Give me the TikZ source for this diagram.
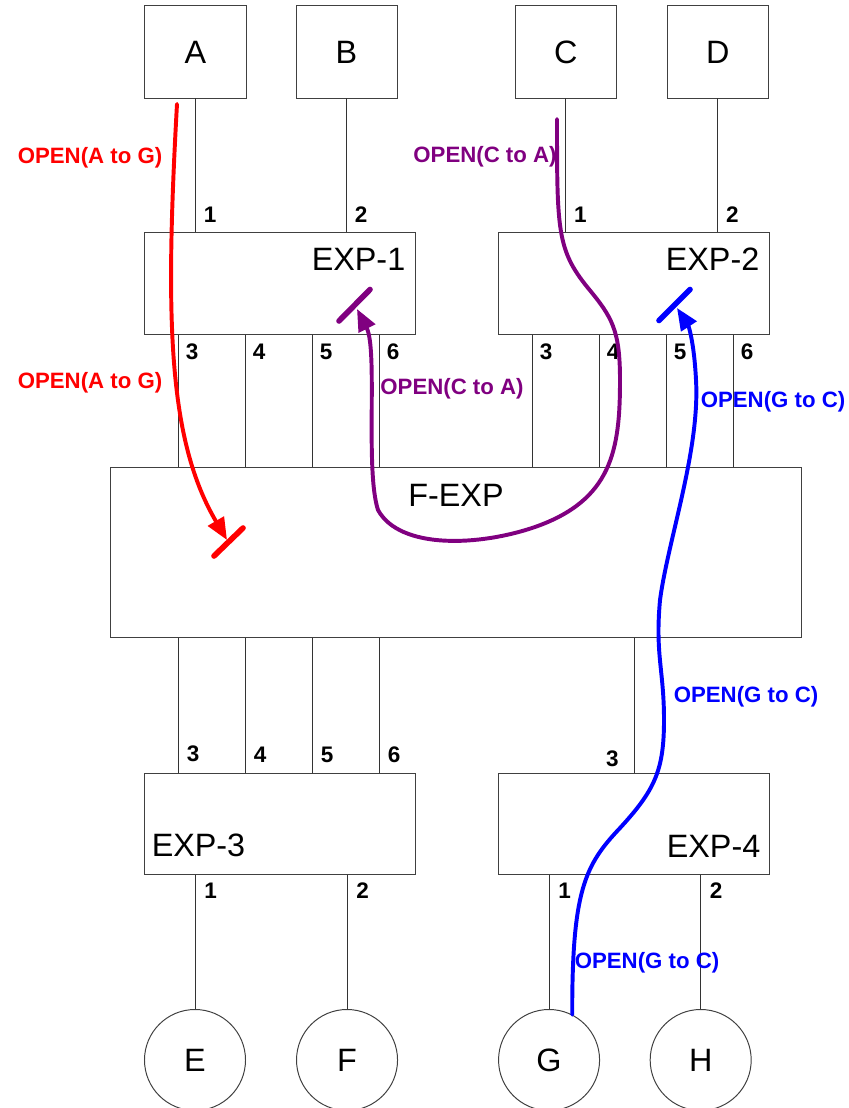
\documentclass[tikz,border=0pt]{standalone}
\usepackage{fontspec}
\setmainfont{Liberation Sans}
\usepackage{tikz}
\usetikzlibrary{shapes,arrows.meta,positioning,calc}
\definecolor{pathRed}{RGB}{255,0,0}
\definecolor{pathPurple}{RGB}{128,0,128}
\definecolor{pathBlue}{RGB}{0,0,255}

\begin{document}
\begin{tikzpicture}[
    x=0.025cm, y=-0.025cm,
    term/.style={rectangle, draw=black!75, line width=0.7pt, minimum width=2.525cm, minimum height=2.3cm, inner sep=0pt, font=\fontsize{23}{26}\selectfont},
    expbox/.style={rectangle, draw=black!75, line width=0.7pt, minimum width=6.75cm, minimum height=2.525cm, inner sep=0pt},
    disk/.style={circle, draw=black!75, line width=0.7pt, minimum size=2.525cm, inner sep=0pt, font=\fontsize{23}{26}\selectfont},
    boxlbl/.style={inner sep=0pt, font=\fontsize{23}{26}\selectfont},
    wire/.style={draw=black!80, line width=0.7pt},
    port/.style={inner sep=0pt, font=\fontsize{16}{18}\selectfont\bfseries},
    flowline/.style={line width=2.8pt, line cap=round, -{Triangle[length=0.55cm, width=0.45cm]}},
    stopbar/.style={line width=4pt, line cap=round},
    flowlbl/.style={inner sep=0pt, font=\fontsize{15.8}{18}\selectfont\bfseries}
]
    \useasboundingbox (0,0) rectangle (848,1108);

    % Hosts
    \node[term] (A) at (195.5,52) {A};
    \node[term, right=1.225cm of A] (B) {B};
    \node[term, right=2.93cm of B] (C) {C};
    \node[term, right=1.25cm of C] (D) {D};

    % Expanders
    \node[expbox] (e1) at (280,283.5) {};
    \node[expbox] (e2) at (634,283.5) {};
    \node[expbox, minimum width=17.25cm, minimum height=4.225cm] (fexp) at (456,552.5) {};
    \node[expbox] (e3) at (280,823.5) {};
    \node[expbox] (e4) at (634,823.5) {};

    \node[boxlbl, anchor=north east] (e1-name) at ($(e1.north east)+(-10,15)$) {EXP-1};
    \node[boxlbl, anchor=north east] (e2-name) at ($(e2.north east)+(-10,15)$) {EXP-2};
    \node[boxlbl, anchor=north] (fexp-name) at ($(fexp.north)+(0,16)$) {F-EXP};
    \node[boxlbl, anchor=south west] (e3-name) at ($(e3.south west)+(7,-17)$) {EXP-3};
    \node[boxlbl, anchor=south east] (e4-name) at ($(e4.south east)+(-9,-17)$) {EXP-4};

    % Drives
    \node[disk] (E) at (195,1060) {E};
    \node[disk, right=1.25cm of E] (F) {F};
    \node[disk, right=2.5cm of F] (G) {G};
    \node[disk, right=1.24cm of G] (H) {H};

    % Hosts to EXP-1 / EXP-2
    \foreach \host/\ex/\n in {A/e1/1, B/e1/2, C/e2/1, D/e2/2} {
        \draw[wire] (\host.south) -- (\host.south |- \ex.north) coordinate (\ex-up\n);
        \node[port, anchor=south west] (\ex-up\n-lbl) at ($(\ex-up\n)+(8,-10)$) {\n};
    }

    % EXP-1 / EXP-2 to F-EXP
    \foreach \ex in {e1,e2} {
        \foreach \n/\dx in {3/34, 4/101, 5/168, 6/235} {
            \coordinate (\ex-dn\n) at ($(\ex.south west)+(\dx,0)$);
            \draw[wire] (\ex-dn\n) -- (\ex-dn\n |- fexp.north);
            \node[port, anchor=north west] (\ex-dn\n-lbl) at ($(\ex-dn\n)+(7,9)$) {\n};
        }
    }

    % F-EXP to EXP-3 / EXP-4
    \foreach \n/\dx in {3/34, 4/101, 5/168, 6/235} {
        \coordinate (e3-up\n) at ($(e3.north west)+(\dx,0)$);
        \draw[wire] (e3-up\n |- fexp.south) -- (e3-up\n);
        \node[port, anchor=south west] (e3-up\n-lbl) at ($(e3-up\n)+(8,-10)$) {\n};
    }
    \draw[wire] (e4.north |- fexp.south) -- (e4.north) coordinate (e4-up3);
    \node[port, anchor=south east] (e4-up3-lbl) at ($(e4-up3)+(-15,-5)$) {3};

    % EXP-3 / EXP-4 to drives
    \foreach \ex/\drv/\n in {e3/E/1, e3/F/2, e4/G/1, e4/H/2} {
        \draw[wire] (\ex.south -| \drv.north) coordinate (\ex-dn\n) -- (\drv.north);
        \node[port, anchor=north west] (\ex-dn\n-lbl) at ($(\ex-dn\n)+(9,8)$) {\n};
    }

    % OPEN(A to G)
    \coordinate (agStart) at (177,104);
    \coordinate (agEnd) at (227,540);
    \draw[flowline, pathRed] (agStart) .. controls (165,320) and (168,440) .. (agEnd);
    \draw[stopbar, pathRed] ($(agEnd)+(-13,16)$) -- ($(agEnd)+(16,-12)$);
    \node[flowlbl, text=pathRed] (ag1) at (90,158) {OPEN(A to G)};
    \node[flowlbl, text=pathRed] (ag2) at (90,383) {OPEN(A to G)};

    % OPEN(C to A)
    \coordinate (caStart) at (557,119);
    \coordinate (caEnd) at (357,309);
    \draw[flowline, pathPurple] (caStart) .. controls (557,230) and (557,250) .. (588,288)
        .. controls (612,317) and (620,330) .. (620,380)
        .. controls (620,450) and (612,500) .. (535,527)
        .. controls (480,546) and (400,550) .. (378,510)
        .. controls (365,470) and (378,350) .. (caEnd);
    \draw[stopbar, pathPurple] ($(caEnd)+(-18,12)$) -- ($(caEnd)+(13,-19.5)$);
    \node[flowlbl, text=pathPurple] (ca1) at (485,157) {OPEN(C to A)};
    \node[flowlbl, text=pathPurple] (ca2) at (452,389) {OPEN(C to A)};

    % OPEN(G to C)
    \coordinate (gcStart) at (G.63);
    \coordinate (gcEnd) at (677,308);
    \draw[flowline, pathBlue] (gcStart) .. controls (572,890) and (585,865) .. (620,828)
        .. controls (655,790) and (664,770) .. (664,720)
        .. controls (664,670) and (655,655) .. (660,600)
        .. controls (668,540) and (700,450) .. (696,380)
        .. controls (694,340) and (688,325) .. (gcEnd);
    \draw[stopbar, pathBlue] ($(gcEnd)+(-18,12.5)$) -- ($(gcEnd)+(13,-18.5)$);
    \node[flowlbl, text=pathBlue] (gc1) at (773,402) {OPEN(G to C)};
    \node[flowlbl, text=pathBlue] (gc2) at (746,697) {OPEN(G to C)};
    \node[flowlbl, text=pathBlue] (gc3) at (647,963) {OPEN(G to C)};
\end{tikzpicture}
\end{document}
